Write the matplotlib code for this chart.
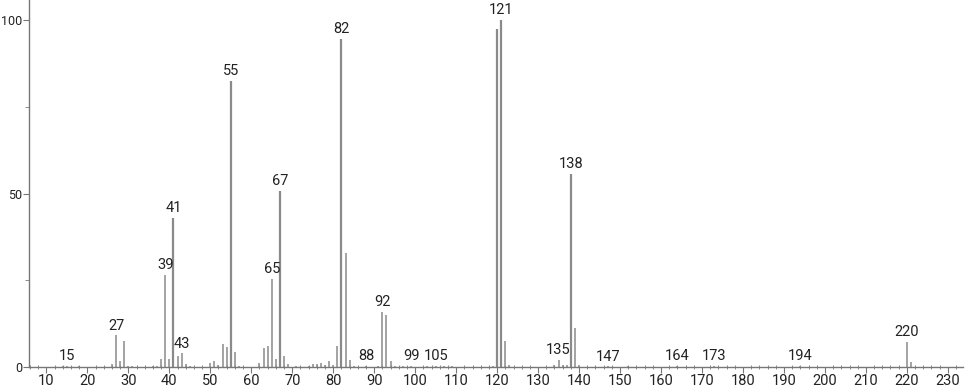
import matplotlib
matplotlib.use("Agg")
import matplotlib.pyplot as plt
from matplotlib.ticker import MultipleLocator

plt.rcParams['font.family'] = ['Roboto', 'DejaVu Sans']

masses = [14, 15, 18, 26, 27, 28, 29, 30, 31, 36, 37, 38, 39, 40, 41, 42, 43, 44, 45,
          50, 51, 52, 53, 54, 55, 56, 57, 62, 63, 64, 65, 66, 67, 68, 69, 71,
          74, 75, 76, 77, 78, 79, 80, 81, 82, 83, 84, 85, 88, 91, 92, 93, 94, 95,
          97, 99, 103, 105, 107, 109, 119, 120, 121, 122, 123,
          134, 135, 136, 137, 138, 139, 140, 147, 152, 164, 173, 194, 220, 221]
intensities = [0.2, 0.3, 0.2, 0.9, 9.1, 1.7, 7.6, 0.3, 0.3, 0.2, 0.3, 2.4, 26.5, 2.4, 43.0, 3.3, 3.9, 0.9, 0.3,
               1.2, 1.8, 0.7, 6.6, 5.7, 82.5, 4.2, 0.3, 1.2, 5.5, 6.0, 25.4, 2.2, 50.8, 3.3, 1.0, 0.3,
               0.4, 0.9, 0.9, 1.2, 0.5, 1.8, 0.5, 6.0, 94.5, 33.0, 2.0, 0.3, 0.3, 0.3, 15.8, 15.0, 1.8, 0.3,
               0.3, 0.3, 0.3, 0.3, 0.3, 0.3, 0.2, 97.3, 100.0, 7.6, 0.7,
               0.5, 2.0, 0.5, 0.5, 55.6, 11.1, 0.5, 0.2, 0.2, 0.3, 0.3, 0.3, 7.3, 1.3]
label_masses = [15, 27, 39, 41, 43, 55, 65, 67, 82, 88, 92, 99, 105, 121, 135, 138, 147, 164, 173, 194, 220]
x_ticks = list(range(10, 231, 10))
y_ticks = [0, 50, 100]

fig = plt.figure(figsize=(9.66, 3.89), dpi=100)
ax = fig.add_axes([28.7/966, 22/389, (963-28.7)/966, 367/389])

gray = '#8a8a8a'
for m, v in zip(masses, intensities):
    lw = 1.6 if v > 40 else 1.1
    ax.vlines(m, 0, v, color=gray, linewidth=lw)

lookup = dict(zip(masses, intensities))
for m in label_masses:
    ax.annotate(str(m), xy=(m, lookup[m]), xytext=(0, 2), textcoords='offset points',
                ha='center', va='bottom', fontsize=10.5, color='#222222')

ax.set_xlim(5.68, 233.7)
ax.set_ylim(0, 105.8)
ax.set_xticks(x_ticks)
ax.set_yticks(y_ticks)
ax.xaxis.set_minor_locator(MultipleLocator(2))
ax.yaxis.set_minor_locator(MultipleLocator(25))
for s in ['top', 'right']:
    ax.spines[s].set_visible(False)
for s in ['left', 'bottom']:
    ax.spines[s].set_color('#777777')
    ax.spines[s].set_linewidth(1.0)
ax.tick_params(axis='x', which='major', length=4, color='#777777', labelsize=10.5, labelcolor='#222222', pad=1)
ax.tick_params(axis='y', which='major', length=4.5, color='#777777', labelsize=9, labelcolor='#222222', pad=0.3)
ax.tick_params(axis='x', which='minor', length=3, color='#777777', direction='inout')
ax.tick_params(axis='y', which='minor', length=3, color='#777777')

fig.savefig('out.png', dpi=100)
